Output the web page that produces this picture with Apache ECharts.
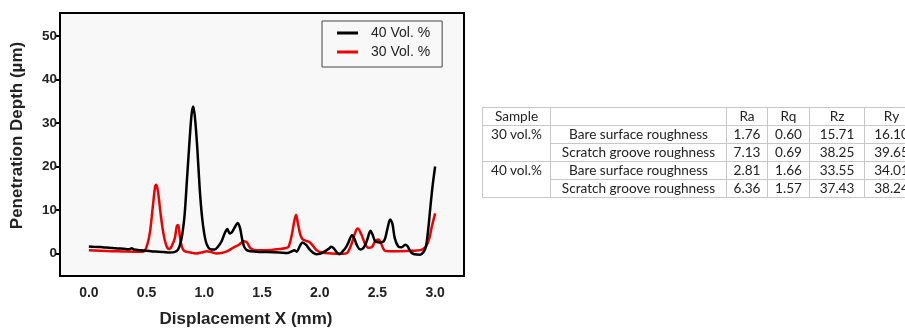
<!DOCTYPE html>
<html>
<head>
<meta charset="utf-8">
<script src="https://cdn.jsdelivr.net/npm/echarts@6/dist/echarts.min.js"></script>
<style>
  html, body { margin: 0; padding: 0; background: #fff; width: 905px; height: 333px; overflow: hidden; }
  #chart { position: absolute; left: 0; top: 0; width: 905px; height: 333px; }
  #tbl { position: absolute; left: 482px; top: 107px; border-collapse: collapse; font-family: Lato, "Open Sans", sans-serif; font-size: 13.6px; color: #222; table-layout: fixed; }
  #tbl td { border: 1px solid #c8c8c8; height: 17px; padding: 0; text-align: center; line-height: 17px; white-space: nowrap; overflow: hidden; }
  #tbl td.nob { border-bottom: none; }
  #tbl td.not { border-top: none; }
</style>
</head>
<body>
<div id="chart"></div>
<table id="tbl"></table>
<script>
// ---- data ----
const seriesNames = ['40 Vol. %', '30 Vol. %'];
const x40 = [0.00,0.05,0.10,0.15,0.20,0.25,0.30,0.35,0.37,0.39,0.45,0.50,0.55,0.60,0.65,0.70,0.74,0.77,0.79,0.81,0.83,0.85,0.87,0.89,0.905,0.92,0.94,0.96,0.98,1.00,1.02,1.05,1.09,1.12,1.15,1.18,1.20,1.22,1.24,1.26,1.29,1.31,1.33,1.35,1.38,1.45,1.55,1.65,1.72,1.76,1.78,1.80,1.83,1.85,1.88,1.91,1.94,1.97,2.00,2.04,2.08,2.10,2.12,2.15,2.17,2.20,2.23,2.25,2.28,2.30,2.32,2.35,2.38,2.41,2.44,2.46,2.48,2.52,2.56,2.585,2.61,2.63,2.65,2.68,2.71,2.74,2.76,2.79,2.82,2.87,2.90,2.92,2.94,2.96,2.98,3.00];
const y40 = [1.6,1.5,1.45,1.35,1.25,1.15,1.05,0.95,1.2,0.9,0.7,0.6,0.45,0.4,0.3,0.2,0.3,0.8,2.0,4.5,9,17,25,32,33.8,31,24,15,8.5,4.5,2.2,1.0,0.9,1.6,2.8,4.8,5.6,4.6,4.9,5.8,7.0,5.8,3.0,1.3,0.6,0.4,0.3,0.2,0.1,0.5,0.7,0.4,1.8,2.5,2.0,1.0,0.2,-0.2,-0.1,0.4,1.1,1.5,1.2,0.2,-0.2,0.5,1.5,2.6,4.2,3.4,2.0,0.9,1.3,3.0,5.2,4.2,2.8,2.5,3.0,5.5,7.8,6.8,3.5,1.6,1.4,2.0,1.7,0.3,-0.2,-0.3,0.3,1.5,5.5,11,16,20];
const x30 = [0.00,0.10,0.20,0.30,0.40,0.47,0.50,0.53,0.555,0.575,0.585,0.60,0.62,0.64,0.66,0.68,0.70,0.72,0.745,0.765,0.775,0.79,0.81,0.83,0.88,0.93,0.98,1.02,1.06,1.10,1.15,1.20,1.25,1.30,1.345,1.37,1.40,1.43,1.50,1.58,1.65,1.70,1.73,1.76,1.78,1.795,1.81,1.83,1.85,1.88,1.91,1.94,1.97,2.02,2.10,2.18,2.24,2.28,2.31,2.33,2.36,2.39,2.42,2.45,2.48,2.51,2.53,2.56,2.60,2.70,2.80,2.88,2.92,2.95,2.97,3.00];
const y30 = [0.7,0.6,0.5,0.45,0.4,0.4,1.5,5.0,11,15.5,15.8,14,9.5,5.5,2.8,1.3,1.0,1.8,3.5,6.5,6.5,3.5,1.2,0.5,0.2,0.0,0.2,0.5,0.3,0.0,0.1,0.5,1.3,2.0,2.8,2.5,1.2,0.8,0.7,0.8,1.0,1.2,1.5,4.5,7.5,8.9,7.0,4.5,3.3,2.9,2.6,1.8,0.8,0.2,0.0,-0.1,0.2,2.5,5.0,5.7,4.4,2.4,1.3,1.4,2.8,3.2,2.4,0.7,0.5,0.5,0.6,0.8,1.6,3.5,6.0,9.2];
const xTicks = [0, 0.5, 1.0, 1.5, 2.0, 2.5, 3.0];
const yTicks = [0, 10, 20, 30, 40, 50];
const xTitle = 'Displacement X (mm)';
const yTitle = 'Penetration Depth (µm)';

const tableHeader = ['Sample', '', 'Ra', 'Rq', 'Rz', 'Ry'];
const sampleLabels = ['30 vol.%', '40 vol.%'];
const surfaceLabels = ['Bare surface roughness', 'Scratch groove roughness'];
const Ra = ['1.76', '7.13', '2.81', '6.36'];
const Rq = ['0.60', '0.69', '1.66', '1.57'];
const Rz = ['15.71', '38.25', '33.55', '37.43'];
const Ry = ['16.10', '39.65', '34.01', '38.24'];

// ---- table ----
(function buildTable() {
  const widths = [68, 176, 41, 42, 55, 54];
  const tbl = document.getElementById('tbl');
  tbl.style.width = widths.reduce((a, b) => a + b, 0) + 'px';
  const cg = document.createElement('colgroup');
  widths.forEach(w => { const c = document.createElement('col'); c.style.width = w + 'px'; cg.appendChild(c); });
  tbl.appendChild(cg);
  const hr = document.createElement('tr');
  tableHeader.forEach(h => { const td = document.createElement('td'); td.textContent = h; hr.appendChild(td); });
  tbl.appendChild(hr);
  for (let i = 0; i < 4; i++) {
    const tr = document.createElement('tr');
    const s = document.createElement('td');
    if (i % 2 === 0) { s.textContent = sampleLabels[i / 2]; s.className = 'nob'; } else { s.className = 'not'; }
    tr.appendChild(s);
    [surfaceLabels[i % 2], Ra[i], Rq[i], Rz[i], Ry[i]].forEach(v => { const td = document.createElement('td'); td.textContent = v; tr.appendChild(td); });
    tbl.appendChild(tr);
  }
})();

// ---- chart ----
const zip = (xs, ys) => xs.map((x, i) => [x, ys[i]]);
const chart = echarts.init(document.getElementById('chart'), null, { renderer: 'canvas' });
const font = '"Liberation Sans", Arial, sans-serif';
chart.setOption({
  animation: false,
  backgroundColor: '#ffffff',
  grid: { left: 60, top: 13, right: 441, bottom: 49, show: true, backgroundColor: '#f8f8f8', borderColor: '#000', borderWidth: 2 },
  legend: {
    data: seriesNames,
    orient: 'vertical',
    left: 322, top: 21,
    backgroundColor: '#f8f8f8',
    borderColor: '#444', borderWidth: 1, borderRadius: 0,
    padding: [5, 12, 8, 15],
    icon: 'rect',
    itemWidth: 21, itemHeight: 3, itemGap: 5,
    textStyle: { fontFamily: font, fontSize: 14, lineHeight: 14, color: '#222', padding: [0, 0, 0, 8] }
  },
  xAxis: {
    type: 'value', min: -0.25, max: 3.25,
    splitLine: { show: false },
    axisLine: { show: true, onZero: false, lineStyle: { color: '#000', width: 2 } },
    axisTick: { show: false },
    axisLabel: { customValues: xTicks, formatter: v => v.toFixed(1), fontFamily: font, fontWeight: 'bold', fontSize: 14, color: '#222', margin: 10 },
    name: xTitle, nameLocation: 'middle', nameGap: 35,
    nameTextStyle: { fontFamily: font, fontWeight: 'bold', fontSize: 17, color: '#222', padding: [0, 32, 0, 0] }
  },
  yAxis: {
    type: 'value', min: -5.2, max: 55.3,
    splitLine: { show: false },
    axisLine: { show: true, onZero: false, lineStyle: { color: '#000', width: 2 } },
    axisTick: { show: true, length: 5, customValues: yTicks, lineStyle: { color: '#000', width: 2 } },
    axisLabel: { customValues: yTicks, fontFamily: font, fontWeight: 'bold', fontSize: 13.5, color: '#222', margin: 3 },
    name: yTitle, nameLocation: 'middle', nameGap: 34,
    nameTextStyle: { fontFamily: font, fontWeight: 'bold', fontSize: 17, color: '#222', padding: [0, 0, 0, 18] }
  },
  series: [
    { name: seriesNames[0], type: 'line', data: zip(x40, y40), symbol: 'none', smooth: 0.3, z: 3,
      itemStyle: { color: '#000' }, lineStyle: { color: '#000', width: 2.5 } },
    { name: seriesNames[1], type: 'line', data: zip(x30, y30), symbol: 'none', smooth: 0.3, z: 2,
      itemStyle: { color: '#ee0000' }, lineStyle: { color: '#ee0000', width: 2.5 } }
  ]
});
</script>
</body>
</html>
